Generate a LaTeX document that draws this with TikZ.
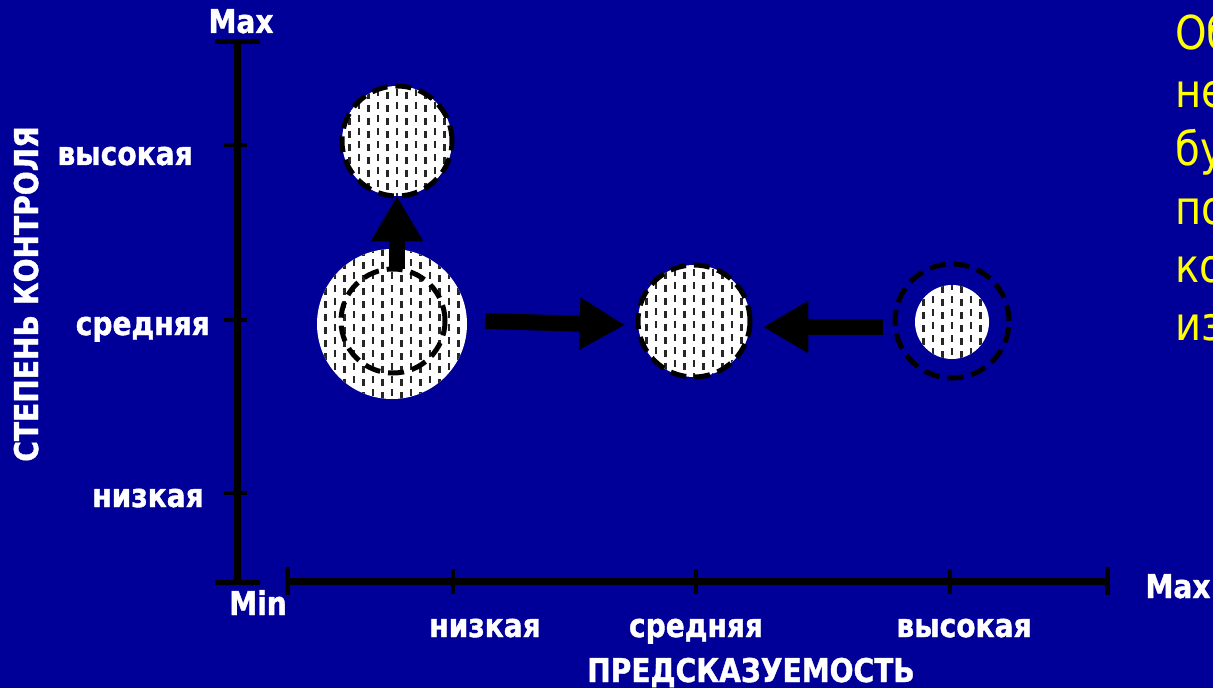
\documentclass[tikz,border=0pt]{standalone}
\usepackage{fontspec}
\setmainfont{DejaVu Sans}
\newfontfamily\lblfont[FakeStretch=0.86]{DejaVu Sans}
\newfontfamily\lblbold[FakeStretch=0.86, FakeBold=1.2]{DejaVu Sans Bold}
\usetikzlibrary{arrows.meta}
\definecolor{bgblue}{RGB}{0,0,153}
\definecolor{txtyellow}{RGB}{255,255,0}

\tikzset{
  axisline/.style={line width=5.25pt, black},
  axiscap/.style={line width=3.75pt, black},
  axistick/.style={line width=3pt, black},
  lbl/.style={font=\lblbold\fontsize{24.5}{28}\selectfont, text=white, inner sep=0pt},
  sidetext/.style={font=\lblfont\fontsize{35}{42}\selectfont, text=txtyellow, inner sep=0pt, anchor=base west},
  dashmark/.style={line width=1.6pt, black!85},
  hatched/.style={fill=white, path picture={
      \foreach \i in {-9,...,9}{
        \pgfmathsetmacro\off{mod(abs(\i),2)*3}
        \foreach \j in {-7,...,7}{
          \draw[dashmark] ([shift={(\i*9.5,\j*13+\off)}]path picture bounding box.center) -- ++(0,7);
        }}}},
  blob/.style={circle, inner sep=0pt, outer sep=0pt, minimum size=#1},
  dashedrim/.style={draw=black, line width=3.75pt, dash pattern=on 12pt off 6pt},
  blockarrow/.style={line width=12pt, black, -{Triangle[width=37pt,length=34pt]}}
}

\begin{document}
\begin{tikzpicture}[x=0.75pt, y=-0.75pt]
  \useasboundingbox (0,0) rectangle (1213,688);
  \clip (0,0) rectangle (1213,688);
  \fill[bgblue] (0,0) rectangle (1213,688);

  % vertical axis: degree of control
  \draw[axisline] (237,42) -- (237,582);
  \draw[axiscap] (215,42) -- (260,42);
  \draw[axiscap] (215,582) -- (260,582);
  \foreach \ty in {145,320,493}
    \draw[axistick] (224,\ty) -- (247,\ty);

  % horizontal axis: predictability
  \draw[axisline] (287,581) -- (1107,581);
  \foreach \tx in {287,1107}
    \draw[axiscap] (\tx,567) -- (\tx,595);
  \foreach \tx in {453,696,950}
    \draw[axistick] (\tx,569) -- (\tx,594);

  % axis labels
  \node[lbl, anchor=base] (ymax) at (241,33) {Max};
  \node[lbl, anchor=base east] (yhigh) at (193,165) {высокая};
  \node[lbl, anchor=base east] (ymid) at (210,335) {средняя};
  \node[lbl, anchor=base east] (ylow) at (204,507) {низкая};
  \node[lbl, anchor=base, rotate=90] (ytitle) at (38,294) {СТЕПЕНЬ КОНТРОЛЯ};
  \node[lbl, anchor=base] (xmin) at (258,615) {Min};
  \node[lbl, anchor=base] (xmax) at (1178,598) {Max};
  \node[lbl, anchor=base] (xlow) at (485,637) {низкая};
  \node[lbl, anchor=base] (xmid) at (696,637) {средняя};
  \node[lbl, anchor=base] (xhigh) at (964,637) {высокая};
  \node[lbl, anchor=base] (xtitle) at (751,682) {ПРЕДСКАЗУЕМОСТЬ};

  % circles
  \node[blob=82.5pt, hatched, dashedrim] (top) at (397,141) {};
  \node[blob=112.5pt, hatched] (big) at (392,324) {};
  \node[blob=78pt, dashedrim] (inner) at (393,321) {};
  \node[blob=84pt, hatched, dashedrim] (mid) at (694,321) {};
  \node[blob=55.5pt, hatched] (small) at (952,322) {};
  \node[blob=85.5pt, dashedrim] (ring) at (952,321) {};

  % shifts between states
  \draw[blockarrow] (top.south |- inner.north) -- (top.south);
  \draw[blockarrow] ([shift={(18,-3)}]big.east) -- ([shift={(-13,4)}]mid.west);
  \draw[blockarrow] ([shift={(-12,6)}]ring.west) -- ([shift={(13,6)}]mid.east);

  % side text
  \node[sidetext] (l1) at (1175,50) {Об};
  \node[sidetext] (l2) at (1175,108) {не};
  \node[sidetext] (l3) at (1175,166) {бу};
  \node[sidetext] (l4) at (1175,224) {по};
  \node[sidetext] (l5) at (1175,282) {ко};
  \node[sidetext] (l6) at (1175,340) {из};
\end{tikzpicture}
\end{document}
